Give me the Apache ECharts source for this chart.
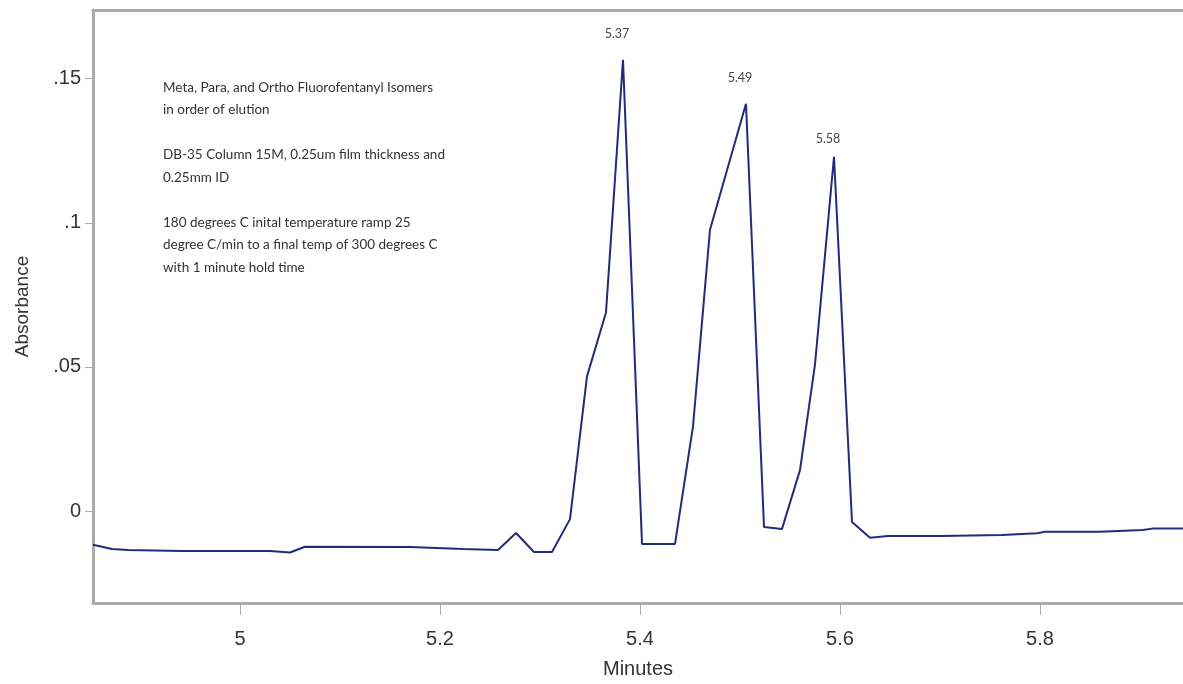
<!DOCTYPE html>
<html>
<head>
<meta charset="utf-8">
<title>Fluorofentanyl isomers</title>
<script src="https://cdn.jsdelivr.net/npm/echarts@6/dist/echarts.min.js"></script>
<style>
  html, body { margin: 0; padding: 0; background: #fff; }
  #chart { width: 1183px; height: 684px; }
</style>
</head>
<body>
<div id="chart"></div>
<script>
// retention time (minutes) and absorbance
const times = [4.853, 4.872, 4.888, 4.942, 5.030, 5.050, 5.065, 5.170, 5.223, 5.258,
  5.276, 5.294, 5.312, 5.330, 5.347, 5.366, 5.383, 5.402, 5.435, 5.453,
  5.470, 5.506, 5.524, 5.542, 5.560, 5.575, 5.594, 5.612, 5.630, 5.648,
  5.700, 5.702, 5.762, 5.797, 5.805, 5.860, 5.903, 5.912, 5.943]
const absorbance = [-0.0117, -0.0132, -0.0135, -0.0139, -0.0139, -0.0144, -0.0124, -0.0125, -0.0132, -0.0135,
  -0.0076, -0.0142, -0.0142, -0.0028, 0.0467, 0.0689, 0.1565, -0.0114, -0.0114, 0.0294,
  0.0976, 0.1413, -0.0055, -0.0062, 0.0142, 0.0509, 0.1229, -0.0038, -0.0093, -0.0087,
  -0.0087, -0.0083, -0.0083, -0.0077, -0.0072, -0.0072, -0.0066, -0.0061, -0.0061]

// peaks labelled with their retention times
const peakTimes = [5.383, 5.506, 5.594]
const peakLabels = ['5.37', '5.49', '5.58']

const xTicks = [5, 5.2, 5.4, 5.6, 5.8]
const yTicks = [0, 0.05, 0.1, 0.15]
const yTickLabels = ['0', '.05', '.1', '.15']

const noteLines = [
  'Meta, Para, and Ortho Fluorofentanyl Isomers',
  'in order of elution',
  '',
  'DB-35 Column 15M, 0.25um film thickness and',
  '0.25mm ID',
  '',
  '180 degrees C inital temperature ramp 25',
  'degree C/min to a final temp of 300 degrees C',
  'with 1 minute hold time'
]

const labelDist = [19, 19, 11]
const seriesData = times.map((t, i) => {
  const k = peakTimes.indexOf(t)
  if (k < 0) return [t, absorbance[i]]
  return {
    value: [t, absorbance[i]],
    label: {
      show: true,
      formatter: peakLabels[k],
      position: 'top',
      distance: labelDist[k],
      offset: [-6, 0],
      fontFamily: 'Lato',
      fontSize: 12.5,
      color: '#444'
    }
  }
})

const frame = { lineStyle: { color: '#aaa', width: 3 } }

const myChart = echarts.init(document.getElementById('chart'))
myChart.setOption({
  animation: false,
  grid: { left: 93, top: 10, right: 0, bottom: 80 },
  xAxis: [{
    type: 'value',
    min: 4.853,
    max: 5.943,
    name: 'Minutes',
    nameLocation: 'middle',
    nameGap: 56,
    nameTextStyle: { fontFamily: 'Liberation Sans', fontSize: 20, color: '#333' },
    axisLine: Object.assign({ onZero: false }, frame),
    axisTick: { customValues: xTicks, length: 12, lineStyle: { color: '#aaa', width: 1 } },
    axisLabel: {
      customValues: xTicks,
      formatter: v => String(v),
      fontFamily: 'Liberation Sans', fontSize: 20, color: '#333', margin: 26
    },
    splitLine: { show: false }
  }, {
    // top edge of the frame
    type: 'value',
    position: 'top',
    min: 4.853,
    max: 5.943,
    axisLine: Object.assign({ onZero: false }, frame),
    axisTick: { show: false },
    axisLabel: { show: false },
    splitLine: { show: false }
  }],
  yAxis: {
    type: 'value',
    min: -0.0319,
    max: 0.1738,
    name: 'Absorbance',
    nameLocation: 'middle',
    nameRotate: 90,
    nameGap: 61,
    nameTextStyle: { fontFamily: 'Liberation Sans', fontSize: 19, color: '#333' },
    axisLine: Object.assign({ onZero: false }, frame),
    axisTick: { customValues: yTicks, length: 8, lineStyle: { color: '#aaa', width: 1 } },
    axisLabel: {
      customValues: yTicks,
      formatter: v => yTickLabels[yTicks.findIndex(t => Math.abs(t - v) < 1e-9)],
      fontFamily: 'Liberation Sans', fontSize: 20, color: '#333', margin: 12
    },
    splitLine: { show: false }
  },
  graphic: [{
    type: 'text',
    left: 163,
    top: 76,
    style: {
      text: noteLines.join('\n'),
      font: '13.5px Lato',
      fill: '#333',
      lineHeight: 22.5
    }
  }],
  series: [{
    type: 'line',
    data: seriesData,
    showSymbol: true,
    symbol: 'circle',
    symbolSize: 0,
    lineStyle: { color: '#222c7a', width: 2 }
  }]
})
window.addEventListener('resize', () => myChart.resize())
</script>
</body>
</html>
